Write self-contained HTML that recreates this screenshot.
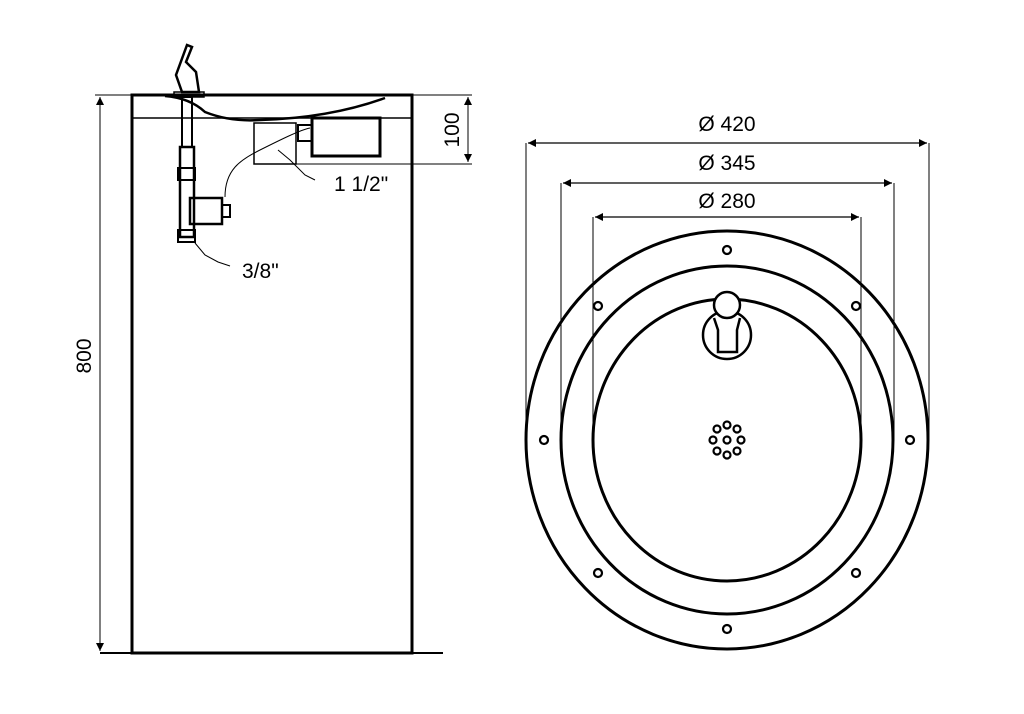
<!DOCTYPE html>
<html><head><meta charset="utf-8"><style>body{margin:0;background:#fff}svg{display:block}</style></head><body>
<svg width="1024" height="714" viewBox="0 0 1024 714" xmlns="http://www.w3.org/2000/svg" font-family="Liberation Sans, sans-serif">
<defs><marker id="a" viewBox="0 0 10 10" refX="10" refY="5" markerWidth="12" markerHeight="8" orient="auto-start-reverse" markerUnits="userSpaceOnUse"><path d="M0,0L10,5L0,10z" fill="#000"/></marker></defs>
<g fill="none" stroke="#000">
<!-- left view -->
<rect x="132" y="95" width="280" height="558" stroke-width="3"/>
<line x1="132" y1="118" x2="412" y2="118" stroke-width="1.5"/>
<line x1="100" y1="653" x2="443" y2="653" stroke-width="2"/>
<line x1="95" y1="95" x2="132" y2="95" stroke-width="1"/>
<line x1="100" y1="97" x2="100" y2="651" stroke-width="1" marker-start="url(#a)" marker-end="url(#a)"/>
<line x1="412" y1="95" x2="472" y2="95" stroke-width="1"/>
<line x1="296" y1="164" x2="472" y2="164" stroke-width="1"/>
<line x1="468" y1="97" x2="468" y2="162" stroke-width="1" marker-start="url(#a)" marker-end="url(#a)"/>
<path d="M165,96 Q190,98 205,112 Q230,122 260,120 Q330,118 385,98" stroke-width="2.5"/>
<path d="M182,92 L176,75 L187,45 L192,47 L186,62 L196,72 L199,92 Z" stroke-width="2.5"/>
<rect x="174" y="92" width="30" height="5" stroke-width="1.5"/>
<rect x="182" y="97" width="10" height="50" stroke-width="2"/>
<rect x="180" y="147" width="14" height="90" stroke-width="2.5"/>
<rect x="178" y="168" width="17" height="12" stroke-width="2"/>
<rect x="178" y="230" width="17" height="12" stroke-width="2"/>
<rect x="190" y="198" width="32" height="26" stroke-width="2.5"/>
<rect x="222" y="205" width="8" height="12" stroke-width="2"/>
<path d="M225,197 C225,170 240,160 260,150 C280,140 300,130 310,128" stroke-width="1"/>
<rect x="254" y="123" width="42" height="41" stroke-width="1.5"/>
<rect x="312" y="118" width="68" height="38" stroke-width="3"/>
<rect x="298" y="125" width="14" height="16" stroke-width="2"/>
<path d="M278,150 L290,160 L305,175 L315,180" stroke-width="1"/>
<path d="M195,243 L205,255 L218,262 L230,266" stroke-width="1"/>
<!-- right view -->
<ellipse cx="727" cy="440" rx="201" ry="209" stroke-width="3"/>
<ellipse cx="727" cy="440" rx="166" ry="174" stroke-width="3"/>
<ellipse cx="727" cy="440" rx="134" ry="141" stroke-width="3"/>
<line x1="526" y1="143" x2="526" y2="440" stroke-width="1"/>
<line x1="929" y1="143" x2="929" y2="440" stroke-width="1"/>
<line x1="561" y1="183" x2="561" y2="440" stroke-width="1"/>
<line x1="894" y1="183" x2="894" y2="440" stroke-width="1"/>
<line x1="593" y1="217" x2="593" y2="440" stroke-width="1"/>
<line x1="861" y1="217" x2="861" y2="440" stroke-width="1"/>
<line x1="528" y1="143" x2="927" y2="143" stroke-width="1.2" marker-start="url(#a)" marker-end="url(#a)"/>
<line x1="563" y1="183" x2="892" y2="183" stroke-width="1.2" marker-start="url(#a)" marker-end="url(#a)"/>
<line x1="595" y1="217" x2="859" y2="217" stroke-width="1.2" marker-start="url(#a)" marker-end="url(#a)"/>
<g stroke-width="2.2">
<circle cx="727" cy="250" r="4"/><circle cx="727" cy="629" r="4"/>
<circle cx="544" cy="440" r="4"/><circle cx="910" cy="440" r="4"/>
<circle cx="598" cy="306" r="4"/><circle cx="856" cy="306" r="4"/>
<circle cx="598" cy="573" r="4"/><circle cx="856" cy="573" r="4"/>
</g>
<circle cx="727" cy="335" r="24" stroke-width="2.5"/>
<circle cx="727" cy="305" r="13" stroke-width="2.5" fill="#fff"/>
<path d="M714,318 L718,330 L718,352 L737,352 L737,330 L740,318" stroke-width="2.5"/>
<g stroke-width="2.2">
<circle cx="727" cy="440" r="3.5"/>
<circle cx="727" cy="425" r="3.5"/><circle cx="737" cy="429" r="3.5"/><circle cx="741" cy="440" r="3.5"/><circle cx="737" cy="451" r="3.5"/>
<circle cx="727" cy="455" r="3.5"/><circle cx="717" cy="451" r="3.5"/><circle cx="713" cy="440" r="3.5"/><circle cx="717" cy="429" r="3.5"/>
</g>
</g>
<g font-size="21" fill="#000">
<text x="727" y="131" text-anchor="middle">Ø 420</text>
<text x="727" y="170" text-anchor="middle">Ø 345</text>
<text x="727" y="208" text-anchor="middle">Ø 280</text>
<text x="334" y="191">1 1/2"</text>
<text x="242" y="278">3/8"</text>
<text transform="translate(91,356) rotate(-90)" text-anchor="middle">800</text>
<text transform="translate(459,130) rotate(-90)" text-anchor="middle">100</text>
</g>
</svg>
</body></html>
